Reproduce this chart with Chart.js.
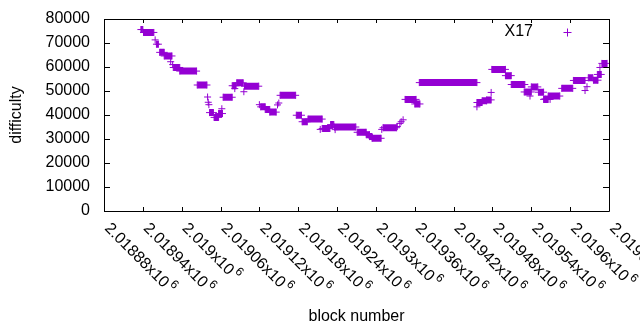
<!DOCTYPE html>
<html>
<head>
<meta charset="utf-8">
<script src="https://cdn.jsdelivr.net/npm/chart.js@4.4.0/dist/chart.umd.min.js"></script>
<style>
  html, body { margin: 0; padding: 0; background: #fff; }
  canvas { display: block; }
</style>
</head>
<body>
<canvas id="chart" width="640" height="330"></canvas>
<script>
// ============================================================
// Datos: dificultad por número de bloque (X17)
// Tramos con la misma dificultad + puntos sueltos
// ============================================================
const seriesLabel = 'X17';

const runStart = [
  2018937, 2018941, 2018961, 2018966, 2018973, 2018987, 2018997, 2019024,
  2019043, 2019050, 2019057, 2019064, 2019078, 2019085, 2019097, 2019122,
  2019129, 2019136, 2019152, 2019177, 2019186, 2019195, 2019217, 2019230,
  2019236, 2019271, 2019285, 2019290, 2019294, 2019311, 2019345, 2019360,
  2019367, 2019456, 2019464, 2019471, 2019479, 2019500, 2019509, 2019529,
  2019540, 2019551, 2019559, 2019566, 2019587, 2019605, 2019628, 2019636,
  2019642, 2019649
];
const runEnd = [
  2018940, 2018957, 2018964, 2018973, 2018985, 2018997, 2019023, 2019039,
  2019049, 2019057, 2019063, 2019078, 2019084, 2019095, 2019119, 2019129,
  2019136, 2019146, 2019176, 2019185, 2019194, 2019217, 2019229, 2019235,
  2019269, 2019285, 2019290, 2019294, 2019308, 2019332, 2019362, 2019368,
  2019456, 2019464, 2019471, 2019478, 2019500, 2019509, 2019530, 2019540,
  2019550, 2019559, 2019566, 2019584, 2019604, 2019623, 2019635, 2019643,
  2019648, 2019657
];
const runDifficulty = [
  75600, 74400, 69500, 66100, 64600, 59800, 58300, 52500,
  41000, 39000, 40600, 47400, 52200, 53400, 52000, 43400,
  42300, 41200, 48200, 39900, 37200, 38300, 34400, 36000,
  35000, 32800, 31800, 31000, 30300, 34700, 46500, 44600,
  53500, 45200, 45900, 46300, 59000, 56400, 52700, 49600,
  51700, 49500, 46500, 47900, 51100, 54400, 55500, 54500,
  56900, 61500
];

const singleBlock = [
  2018959, 2018983, 2018986, 2019040, 2019041, 2019042, 2019062, 2019082,
  2019096, 2019120, 2019148, 2019150, 2019214, 2019237, 2019309, 2019333,
  2019337, 2019339, 2019342, 2019363, 2019456, 2019478, 2019538, 2019561,
  2019569, 2019623, 2019626, 2019646
];
const singleDifficulty = [
  71300, 62200, 61000, 47500, 45300, 44300, 42600, 51000,
  49700, 44300, 44200, 45000, 34000, 33900, 34000, 35200,
  36500, 37200, 38000, 44900, 43400, 49400, 47900, 46700,
  46500, 50200, 51800, 59800
];

const xTickValues = [
  2018880, 2018940, 2019000, 2019060, 2019120, 2019180, 2019240,
  2019300, 2019360, 2019420, 2019480, 2019540, 2019600, 2019660
];
const yTickValues = [0, 10000, 20000, 30000, 40000, 50000, 60000, 70000, 80000];

const purple = '#9400d3';
const fontFamily = '"Liberation Sans", Arial, sans-serif';

// Segmentos gruesos para los tramos (null corta la línea)
const runSegments = [];
runStart.forEach((start, i) => {
  runSegments.push({ x: start, y: runDifficulty[i] });
  runSegments.push({ x: runEnd[i], y: runDifficulty[i] });
  runSegments.push({ x: runEnd[i], y: null });
});

// Cruces: extremos de cada tramo + puntos sueltos
const crossPoints = [];
runStart.forEach((start, i) => {
  crossPoints.push({ x: start, y: runDifficulty[i] });
  crossPoints.push({ x: runEnd[i], y: runDifficulty[i] });
});
singleBlock.forEach((b, i) => crossPoints.push({ x: b, y: singleDifficulty[i] }));

// "2.01888x10^6"
function tickMantissa(v) {
  return parseFloat((v / 1e6).toFixed(5)).toString();
}

// ============================================================
// Marco, ticks hacia adentro, etiquetas y leyenda estilo gnuplot
// ============================================================
const gnuplotFrame = {
  id: 'gnuplotFrame',
  beforeDatasetsDraw(chart) {
    const { ctx, chartArea: a, scales } = chart;
    ctx.save();
    ctx.strokeStyle = '#000';
    ctx.lineWidth = 1;
    ctx.beginPath();
    ctx.rect(Math.round(a.left) + 0.5, Math.round(a.top) + 0.5,
      Math.round(a.right - a.left), Math.round(a.bottom - a.top));
    scales.y.ticks.forEach((t) => {
      const py = Math.round(scales.y.getPixelForValue(t.value)) + 0.5;
      ctx.moveTo(a.left, py); ctx.lineTo(a.left + 6, py);
      ctx.moveTo(a.right, py); ctx.lineTo(a.right - 6, py);
    });
    scales.x.ticks.forEach((t) => {
      const px = Math.round(scales.x.getPixelForValue(t.value)) + 0.5;
      ctx.moveTo(px, a.bottom); ctx.lineTo(px, a.bottom - 4);
      ctx.moveTo(px, a.top); ctx.lineTo(px, a.top + 4);
    });
    ctx.stroke();
    ctx.restore();
  },
  afterDraw(chart) {
    const { ctx, chartArea: a, scales } = chart;
    ctx.save();
    ctx.fillStyle = '#000';

    // y tick labels
    ctx.font = '16px ' + fontFamily;
    ctx.textAlign = 'right';
    ctx.textBaseline = 'middle';
    scales.y.ticks.forEach((t) => {
      ctx.fillText(String(t.value), a.left - 14, scales.y.getPixelForValue(t.value));
    });

    // x tick labels, rotadas 45° hacia abajo
    scales.x.ticks.forEach((t) => {
      const px = scales.x.getPixelForValue(t.value);
      const base = tickMantissa(t.value) + 'x10';
      ctx.save();
      ctx.translate(px + 3, a.bottom + 15);
      ctx.rotate(Math.PI / 4);
      ctx.textAlign = 'left';
      ctx.textBaseline = 'middle';
      ctx.font = '16px ' + fontFamily;
      ctx.fillText(base, 0, 0);
      const w = ctx.measureText(base).width;
      ctx.font = '12px ' + fontFamily;
      ctx.fillText('6', w + 2, -6);
      ctx.restore();
    });

    // títulos de ejes
    ctx.font = '16px ' + fontFamily;
    ctx.textAlign = 'center';
    ctx.textBaseline = 'middle';
    ctx.fillText('block number', (a.left + a.right) / 2, 317);
    ctx.save();
    ctx.translate(17, (a.top + a.bottom) / 2);
    ctx.rotate(-Math.PI / 2);
    ctx.fillText('difficulty', 0, 0);
    ctx.restore();

    // leyenda
    ctx.textAlign = 'right';
    ctx.fillText(seriesLabel, 533, 32);
    ctx.strokeStyle = purple;
    ctx.lineWidth = 1;
    ctx.beginPath();
    ctx.moveTo(563.5, 32.5); ctx.lineTo(571.5, 32.5);
    ctx.moveTo(567.5, 28.5); ctx.lineTo(567.5, 36.5);
    ctx.stroke();
    ctx.restore();
  }
};

const hiddenAxis = {
  ticks: { display: false },
  grid: { display: false, drawTicks: false },
  border: { display: false }
};

const chart = new Chart(document.getElementById('chart'), {
  type: 'scatter',
  data: {
    datasets: [
      {
        type: 'line',
        label: seriesLabel,
        data: runSegments,
        borderColor: purple,
        borderWidth: 7,
        borderCapStyle: 'butt',
        pointRadius: 0,
        spanGaps: false,
        tension: 0
      },
      {
        label: seriesLabel,
        data: crossPoints,
        pointStyle: 'cross',
        pointRadius: 3.5,
        pointBorderWidth: 1,
        borderColor: purple,
        backgroundColor: purple,
        showLine: false
      }
    ]
  },
  options: {
    responsive: false,
    animation: false,
    devicePixelRatio: 1,
    layout: { padding: { left: 104, right: 31, top: 19, bottom: 119 } },
    plugins: { legend: { display: false }, tooltip: { enabled: false } },
    scales: {
      x: {
        ...hiddenAxis,
        type: 'linear',
        min: xTickValues[0],
        max: xTickValues[xTickValues.length - 1],
        afterBuildTicks: (scale) => { scale.ticks = xTickValues.map((v) => ({ value: v })); },
        afterFit: (scale) => { scale.height = 0; }
      },
      y: {
        ...hiddenAxis,
        min: yTickValues[0],
        max: yTickValues[yTickValues.length - 1],
        afterBuildTicks: (scale) => { scale.ticks = yTickValues.map((v) => ({ value: v })); },
        afterFit: (scale) => { scale.width = 0; }
      }
    }
  },
  plugins: [gnuplotFrame]
});
</script>
</body>
</html>
